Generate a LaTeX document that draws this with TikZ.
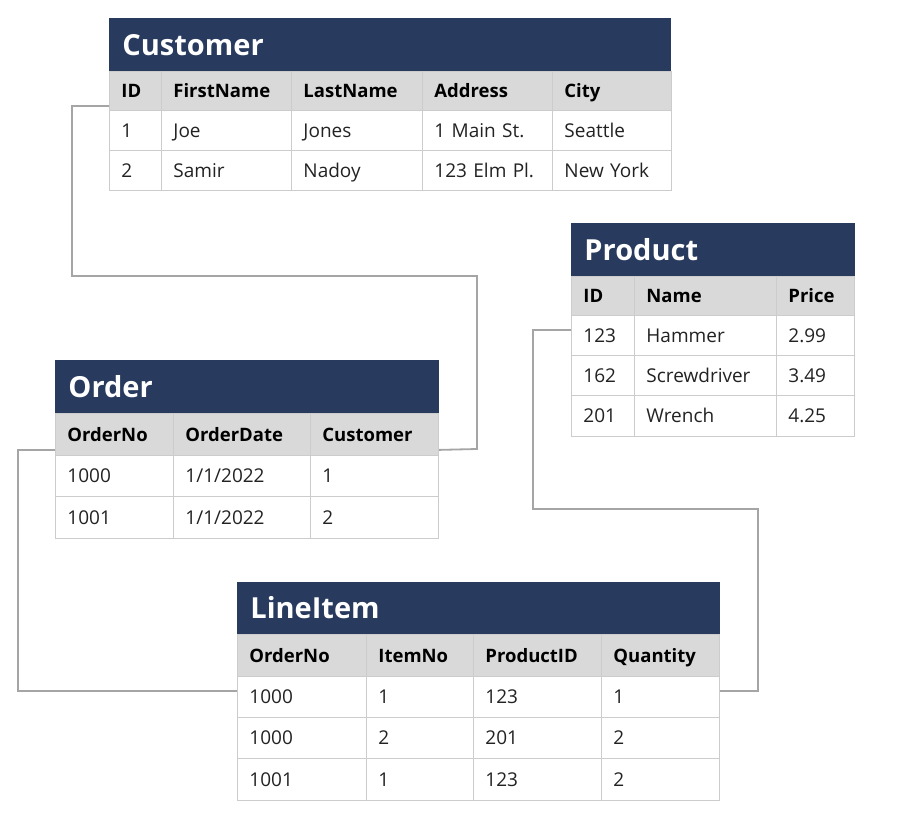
\documentclass[tikz,border=0pt]{standalone}
\usepackage{fontspec}
\setmainfont{Open Sans}
\usetikzlibrary{calc}
\definecolor{navy}{RGB}{40,58,94}
\definecolor{headgray}{RGB}{217,217,217}
\definecolor{gridgray}{RGB}{204,204,204}
\definecolor{linkgray}{RGB}{165,165,165}
\definecolor{ink}{RGB}{34,34,34}

\tikzset{
  cell/.style={draw=gridgray, line width=0.9pt, anchor=north west, inner xsep=12pt, inner ysep=0pt,
    align=left, text height=13.5pt, text depth=0pt, font=\fontsize{19}{22}\selectfont, text=ink},
  head/.style={cell, fill=headgray, font=\fontsize{18.5}{22}\selectfont\bfseries, text=black},
  title/.style={cell, draw=navy, fill=navy, text=white, font=\fontsize{29}{32}\selectfont\bfseries,
    inner xsep=13pt, text height=21pt},
  link/.style={draw=linkgray, line width=1.8pt}
}

\begin{document}
\begin{tikzpicture}[x=1pt, y=-1pt]
\useasboundingbox (0,0) rectangle (898,822);

% Customer
\node[title, text width=535pt, minimum height=53pt] (cust) at (109,18) {Customer};
\foreach \x/\w/\h/\a/\b [count=\i, evaluate=\w as \tw using \w-24] in
  {109/52/ID/1/2, 161/130/FirstName/Joe/Samir, 291/131/LastName/Jones/Nadoy,
   422/130/Address/1 Main St./123 Elm Pl., 552/119/City/Seattle/New York}{
  \node[head, minimum height=39pt, text width=\tw pt] (cust-h\i) at (\x,71) {\h};
  \node[cell, minimum height=40pt, text width=\tw pt] (cust-a\i) at (\x,110) {\a};
  \node[cell, minimum height=40pt, text width=\tw pt] (cust-b\i) at (\x,150) {\b};
}

% Product
\node[title, text width=257pt, minimum height=53pt] (prod) at (571,223) {Product};
\foreach \x/\w/\h/\a/\b/\c [count=\i, evaluate=\w as \tw using \w-24] in
  {571/63/ID/123/162/201, 634/142/Name/Hammer/Screwdriver/Wrench, 776/78/Price/2.99/3.49/4.25}{
  \node[head, minimum height=39pt, text width=\tw pt] (prod-h\i) at (\x,276) {\h};
  \node[cell, minimum height=40pt, text width=\tw pt] (prod-a\i) at (\x,315) {\a};
  \node[cell, minimum height=40pt, text width=\tw pt] (prod-b\i) at (\x,355) {\b};
  \node[cell, minimum height=41pt, text width=\tw pt] (prod-c\i) at (\x,395) {\c};
}

% Order
\node[title, text width=357pt, minimum height=53pt] (ord) at (55,360) {Order};
\foreach \x/\w/\h/\a/\b [count=\i, evaluate=\w as \tw using \w-24] in
  {55/118/OrderNo/1000/1001, 173/137/OrderDate/{1/1/2022}/{1/1/2022}, 310/128/Customer/1/2}{
  \node[head, minimum height=42pt, text width=\tw pt] (ord-h\i) at (\x,413) {\h};
  \node[cell, minimum height=41pt, text width=\tw pt] (ord-a\i) at (\x,455) {\a};
  \node[cell, minimum height=42pt, text width=\tw pt] (ord-b\i) at (\x,496) {\b};
}

% LineItem
\node[title, text width=456pt, minimum height=52pt] (li) at (237,582) {LineItem};
\foreach \x/\w/\h/\a/\b/\c [count=\i, evaluate=\w as \tw using \w-24] in
  {237/129/OrderNo/1000/1000/1001, 366/107/ItemNo/1/2/1, 473/128/ProductID/123/201/123, 601/118/Quantity/1/2/2}{
  \node[head, minimum height=42pt, text width=\tw pt] (li-h\i) at (\x,634) {\h};
  \node[cell, minimum height=41pt, text width=\tw pt] (li-a\i) at (\x,676) {\a};
  \node[cell, minimum height=41pt, text width=\tw pt] (li-b\i) at (\x,717) {\b};
  \node[cell, minimum height=42pt, text width=\tw pt] (li-c\i) at (\x,758) {\c};
}

% keys
\draw[link] ([yshift=5pt]cust-h1.south west) -| (72,276) -| (477,449) -- ([yshift=6pt]ord-h3.south east);
\draw[link] ([yshift=6pt]ord-h1.south west) -| (18,691) -- ([yshift=-15pt]li-a1.north west);
\draw[link] ([yshift=-15pt]prod-a1.north west) -| (533,509) -| (758,691) -- ([yshift=-15pt]li-a4.north east);
\end{tikzpicture}
\end{document}
